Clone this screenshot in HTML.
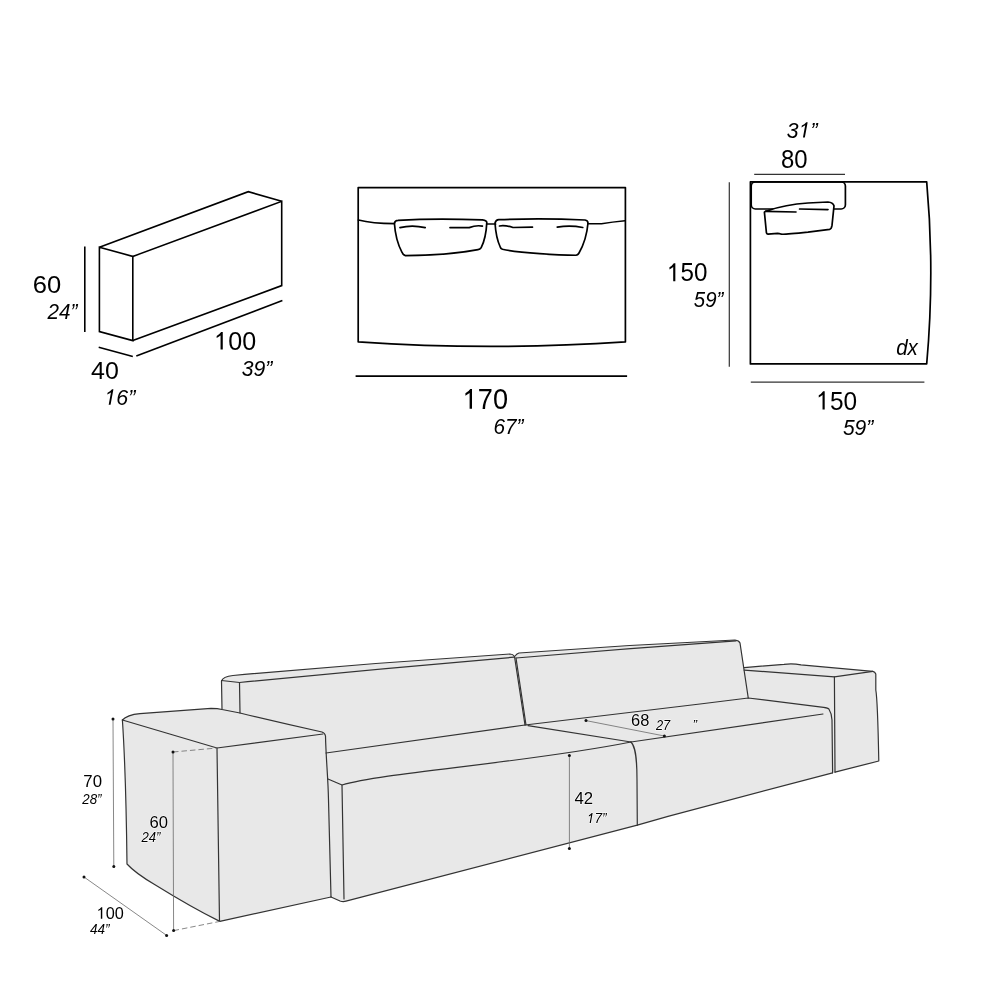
<!DOCTYPE html>
<html><head><meta charset="utf-8">
<style>
html,body{margin:0;padding:0;background:#fff;}
body{width:1000px;height:1000px;overflow:hidden;}
svg{display:block;}
text{font-family:"Liberation Sans",sans-serif;fill:#000;}
.it{font-style:italic;}
.h{fill:none;stroke:none;}
.s{stroke:#fff;stroke-width:1.2px;paint-order:stroke;stroke-linejoin:round;}
</style></head>
<body>
<svg width="1000" height="1000" viewBox="0 0 1000 1000">
<!-- Drawing 1: block -->
<g fill="none" stroke="#000" stroke-width="1.6" stroke-linejoin="miter">
<path d="M99.4 247.2 L132.8 256.4 L132.8 340.6 L99.4 331.6 Z"/>
<path d="M99.4 247.2 L248.3 191.7 L281.7 201.3"/>
<path d="M132.8 256.4 L281.7 201.3 L281.7 285.6 L132.8 340.6"/>
<path d="M84.8 246.6 V332"/>
<path d="M98.7 347.2 L132.8 356.5"/>
<path d="M136.3 356 L282.4 300.6"/>
</g>

<!-- Drawing 2: top view sofa -->
<g fill="none" stroke="#000" stroke-width="1.7" stroke-linejoin="round" stroke-linecap="round">
<path d="M358.2 341.9 V187.6 H625.4 V341.9 Q490 351 358.2 341.9 Z"/>
<path d="M358.4 220 C370 223 385 223.6 394.4 223.6"/>
<path d="M394.4 223.2 Q395 220.4 398 220.3 C420 219 460 219 482.4 219.9 Q486.8 220.5 486.8 222.6 Q486 238 481.3 247.4 Q480 249.3 478 249.6 C460 253 430 255.6 405.4 255.6 Q403 255 402 252.3 Q395.5 240 394.4 223.2 Z"/>
<path d="M400 227.6 Q412 224.5 425.2 227.6"/>
<path d="M450 227.6 L469.2 227.6 Q476 225 482.4 226.1"/>
<path d="M486.8 224 L495.6 224"/>
<path d="M495 223 Q496 219.8 498.75 219.7 C520 218.8 560 218.8 585 220 Q588 220.5 588 223 Q586.5 240 579 253 Q578 255 576 255.25 C560 255 520 253 502.5 249.25 Q500.5 248.5 500.25 247 Q496 238 495 223 Z"/>
<path d="M499.5 226 Q505 225 513 227.5 L532.5 227.2"/>
<path d="M557.25 227.2 Q570 225 582.75 227.5"/>
<path d="M588 223.75 L601.5 223.75 Q612 222 625 220.75"/>
</g>
<path d="M355.6 376.1 H627.1" stroke="#000" stroke-width="1.6" fill="none"/>

<!-- Drawing 3: corner -->
<g fill="none" stroke="#000" stroke-width="1.7" stroke-linejoin="round" stroke-linecap="round">
<path d="M750.4 181.8 H926.7 Q934.9 272 926.7 363.9 H750.4 Z"/>
<rect x="751.2" y="181.8" width="94.2" height="27.2" rx="4.2"/>
<path fill="#fff" d="M764.4 212.2 Q765 210.8 768 210.6 C776 207.8 790 204.3 808 203 L828 202 Q832.8 202.3 834 205.8 L832 225.4 Q831.5 228.8 829.6 229.4 L808 232.2 C795 233.5 785 234.5 781.6 234.2 Q779 233.4 777.6 233.4 L768 234.2 Q766.5 233.8 766.4 232.6 Z"/>
<path d="M765.6 211.4 L796 212"/>
<path d="M799.6 209 L828 209.6"/>
</g>
<g stroke="#333" stroke-width="1.2" fill="none">
<path d="M729.3 182.3 V366.8"/>
<path d="M750.8 382.2 H924.4"/>
<path d="M754.2 174.4 H845"/>
</g>

<!-- Sofa perspective -->
<path fill="#e8e8e8" stroke="none" d="M122.4 720 Q127 714.8 140 713.6 L211 708.4 Q218 708.4 222 709.5 L221.5 681 Q223 676.5 233 675.5 Q371.5 663 510 654 Q513 654 515 656 Q517 653.5 519 653 Q627 644.8 735 640 Q739 640.5 740 643 L744.3 667.6 L784 664.3 Q792.5 663.2 801 664.8 L872.8 671.4 Q875 672 875.8 674 L875.8 690 Q877.6 699.6 878.8 761 L835 772.2 L832.6 772.8 L668 816.3 L637.3 825.2 L346 901.2 Q343 902 340 901 L331 897 L219.8 921.4 C195 909 170 894 155 884.7 C140 876 132 869.5 127 864 Q126 775 122.4 720 Z"/>
<g fill="none" stroke="#333" stroke-width="1.2" stroke-linejoin="round" stroke-linecap="round">
<path d="M122.4 720 Q127 714.8 140 713.6 L211 708.4 Q218 708.4 222 709.5 L240 713 Q280 722.5 322 732 Q325 733 325.5 736 C326 760 328 775 328.5 800 L331 897"/>
<path d="M122.4 720 L217 748 L323 734"/>
<path d="M122.4 720 Q126 775 127 864 C132 869.5 140 876 155 884.7 C170 894 195 909 219.8 921.4 L331 897"/>
<path d="M217 748 L219.5 921.4"/>
<path d="M221.5 681 Q223 676.5 233 675.5 Q371.5 663 510 654 Q513 654 514.5 656.5 L525 725"/>
<path d="M221.5 680.5 L239.5 682.5 Q376.75 668.9 514 657.2"/>
<path d="M221.5 681 L222 709.5"/>
<path d="M239.5 682.5 L240 713"/>
<path d="M515 656 Q517 653.5 519 653 Q627 644.8 735 640 Q739 640.5 740 643 L748.25 698"/>
<path d="M516 658 Q626 648.4 736 640.8"/>
<path d="M516 658 L526 725"/>
<path d="M744.3 667.6 L784 664.3 Q792.5 663.2 801 664.8 L872.8 671.4 Q875 672 875.8 674 L875.8 690 Q877.6 699.6 878.8 761 L835 772.2"/>
<path d="M744.3 670.1 L834.4 676.8 L872.8 671.4"/>
<path d="M834.4 676.8 L835 772.2"/>
<path d="M326 753 L525 725"/>
<path d="M328 779 L342 785 C385 772 520 764 631 742"/>
<path d="M528 725.6 L631 742"/>
<path d="M342 785 L344 899"/>
<path d="M631 742 C635 746 637 755 637 780 L637.3 825.2"/>
<path d="M331 897 L340 901 Q343 902 346 901.2 L637.3 825.2 L668 816.3 L832.6 772.8"/>
<path d="M525 725 L700 704 L748.25 698 L823.6 707.4 Q828 708 829 709.2 Q832 714 832 720 L832.6 772.8"/>
<path d="M631 742 L823 714"/>
</g>
<g fill="none" stroke="#6a6a6a" stroke-width="0.8">
<path d="M113 719 L113.8 866.4"/>
<path d="M173 752 L173.6 930.6"/>
<path d="M173 752 L217 748 M173.6 930.6 L219.8 921.4" stroke-dasharray="5.5 3"/>
<path d="M84 877 L166.6 935.4"/>
<path d="M569.4 755.6 L569.4 848.4"/>
<path d="M586 720.6 L664.4 736"/>
</g>
<g fill="#111">
<circle cx="113" cy="719" r="1.5"/><circle cx="113.8" cy="866.4" r="1.5"/>
<circle cx="173" cy="752" r="1.5"/><circle cx="173.6" cy="930.6" r="1.5"/>
<circle cx="84" cy="877" r="1.5"/><circle cx="166.6" cy="935.4" r="1.5"/>
<circle cx="569.4" cy="755.6" r="1.5"/><circle cx="569.4" cy="848.4" r="1.5"/>
<circle cx="586" cy="720.6" r="1.5"/><circle cx="664.4" cy="736" r="1.5"/>
</g>
<defs><filter id="gs" x="0" y="0" width="1" height="1"><feOffset dx="0" dy="0"/></filter></defs>
<g filter="url(#gs)">
<text class="t" font-size="24.79" transform="translate(32.82 292.55) scale(1.031 1)">60</text>
<text class="t it" font-size="22.50" transform="translate(47.60 318.75) scale(0.920 1)">24”</text>
<text class="t" font-size="24.79" transform="translate(91.08 378.95) scale(1.007 1)">40</text>
<g transform="translate(104.39 404.77) scale(0.948 1)"><text class="t it" font-size="22.54"><tspan class="h">1</tspan>6”</text><path transform="translate(0.000 0) scale(0.01100 -0.01100)" d="M412 0 L629 1120 Q475 1020 274 930 L306 1095 Q552 1210 735 1409 L866 1409 L593 0 Z"/></g>
<g transform="translate(214.24 349.59) scale(0.979 1)"><text class="t" font-size="25.63"><tspan class="h">1</tspan>00</text><path transform="translate(0.000 0) scale(0.01252 -0.01252)" d="M515 0 L515 1120 Q380 1020 197 930 L197 1095 Q420 1210 565 1409 L696 1409 L696 0 Z"/></g>
<text class="t it" font-size="22.18" transform="translate(241.67 375.53) scale(0.954 1)">39”</text>
<g transform="translate(462.79 408.71) scale(0.944 1)"><text class="t" font-size="28.73"><tspan class="h">1</tspan>70</text><path transform="translate(0.000 0) scale(0.01403 -0.01403)" d="M515 0 L515 1120 Q380 1020 197 930 L197 1095 Q420 1210 565 1409 L696 1409 L696 0 Z"/></g>
<text class="t it" font-size="21.41" transform="translate(493.46 433.99) scale(0.970 1)">67”</text>
<text class="t" font-size="26.20" transform="translate(780.93 167.54) scale(0.912 1)">80</text>
<g transform="translate(786.87 137.58) scale(0.948 1)"><text class="t it" font-size="22.39">3<tspan class="h">1</tspan>”</text><path transform="translate(12.455 0) scale(0.01093 -0.01093)" d="M412 0 L629 1120 Q475 1020 274 930 L306 1095 Q552 1210 735 1409 L866 1409 L593 0 Z"/></g>
<g transform="translate(667.12 281.34) scale(0.926 1)"><text class="t" font-size="26.13"><tspan class="h">1</tspan>50</text><path transform="translate(0.000 0) scale(0.01276 -0.01276)" d="M515 0 L515 1120 Q380 1020 197 930 L197 1095 Q420 1210 565 1409 L696 1409 L696 0 Z"/></g>
<text class="t it" font-size="21.20" transform="translate(693.79 306.94) scale(0.963 1)">59”</text>
<g transform="translate(816.40 409.58) scale(0.917 1)"><text class="t" font-size="26.62"><tspan class="h">1</tspan>50</text><path transform="translate(0.000 0) scale(0.01300 -0.01300)" d="M515 0 L515 1120 Q380 1020 197 930 L197 1095 Q420 1210 565 1409 L696 1409 L696 0 Z"/></g>
<text class="t it" font-size="22.18" transform="translate(842.92 435.18) scale(0.948 1)">59”</text>
<text class="t it" font-size="21.35" transform="translate(896.18 354.68) scale(0.963 1)">dx</text>
<text class="s" font-size="16.62" transform="translate(83.36 786.83) scale(1.010 1)">70</text>
<text class="s it" font-size="13.80" transform="translate(82.27 803.66) scale(0.966 1)">28”</text>
<text class="s" font-size="16.76" transform="translate(149.57 827.63) scale(0.995 1)">60</text>
<text class="s it" font-size="14.14" transform="translate(141.47 841.90) scale(0.933 1)">24”</text>
<g transform="translate(96.74 918.73) scale(0.971 1)"><text class="s" font-size="16.76"><tspan class="h">1</tspan>00</text><path transform="translate(0.000 0) scale(0.00818 -0.00818)" d="M515 0 L515 1120 Q380 1020 197 930 L197 1095 Q420 1210 565 1409 L696 1409 L696 0 Z" stroke="#fff" stroke-width="147" paint-order="stroke" stroke-linejoin="round"/></g>
<text class="s it" font-size="13.99" transform="translate(89.93 933.75) scale(0.970 1)">44”</text>
<text class="s" font-size="17.00" transform="translate(574.53 804.10) scale(0.986 1)">42</text>
<g transform="translate(586.87 823.00) scale(0.953 1)"><text class="s it" font-size="14.35"><tspan class="h">1</tspan>7”</text><path transform="translate(0.000 0) scale(0.00701 -0.00701)" d="M412 0 L629 1120 Q475 1020 274 930 L306 1095 Q552 1210 735 1409 L866 1409 L593 0 Z" stroke="#fff" stroke-width="171" paint-order="stroke" stroke-linejoin="round"/></g>
<text class="s" font-size="16.90" transform="translate(630.98 726.43) scale(0.975 1)">68</text>
<text class="s it" font-size="14.79" transform="translate(655.91 730.00) scale(0.873 1)">27</text>
<text class="s it" font-size="13.50" transform="translate(692.45 729.35) scale(1.000 1)">”</text>
</g>
</svg>
</body></html>
